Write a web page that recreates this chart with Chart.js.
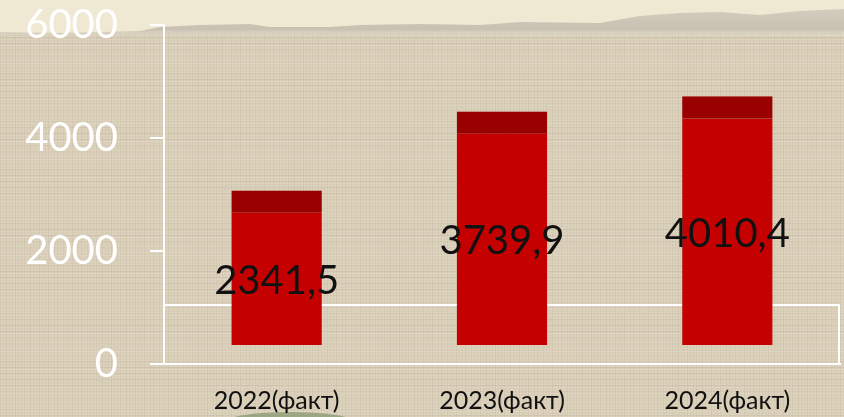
<!DOCTYPE html>
<html>
<head>
<meta charset="utf-8">
<script src="https://cdn.jsdelivr.net/npm/chart.js@4.4.1/dist/chart.umd.min.js"></script>
<style>
  html, body { margin: 0; padding: 0; background: #d8cdb7; }
  #wrap { width: 844px; height: 417px; position: relative; }
</style>
</head>
<body>
<div id="wrap"><canvas id="c" width="844" height="417"></canvas></div>
<script>
// ---- data ----
const categories = ['2022(факт)', '2023(факт)', '2024(факт)'];
const values = [2341.5, 3739.9, 4010.4];
const yTicks = [0, 2000, 4000, 6000];

// ---- style constants ----
const RED = '#c40000';
const DARK_RED = '#990000';
const FONT = 'Lato, "Open Sans", sans-serif';
const BASE_LIFT = 336;     // 3D floor lift of bar bases, in axis units
const TOP_FACE_PX = 22;    // height of the darker top face
const FLOOR_DEPTH_PX = 59; // depth of the white floor outline

function makeTexture() {
  const p = document.createElement('canvas');
  p.width = 96; p.height = 96;
  const g = p.getContext('2d');
  g.fillStyle = '#dacfb9';
  g.fillRect(0, 0, 96, 96);
  for (let i = 0; i < 96; i += 3) {
    const a = 0.10 + 0.08 * Math.sin(i * 1.7) * Math.cos(i * 0.37);
    g.fillStyle = 'rgba(150,135,110,' + Math.abs(a).toFixed(3) + ')';
    g.fillRect(i, 0, 1, 96);
    const b = 0.14 + 0.08 * Math.cos(i * 2.3) * Math.sin(i * 0.53);
    g.fillStyle = 'rgba(245,238,222,' + Math.abs(b).toFixed(3) + ')';
    g.fillRect(0, i, 96, 1);
  }
  for (let i = 1; i < 96; i += 6) {
    const a = 0.06 + 0.05 * Math.sin(i * 0.9);
    g.fillStyle = 'rgba(120,105,85,' + Math.abs(a).toFixed(3) + ')';
    g.fillRect(0, i, 96, 1);
  }
  return p;
}

const bgPlugin = {
  id: 'bg',
  beforeDraw(chart) {
    const ctx = chart.ctx;
    const W = chart.width, H = chart.height;
    ctx.save();
    ctx.fillStyle = ctx.createPattern(makeTexture(), 'repeat');
    ctx.fillRect(0, 0, W, H);
    // cream paper at top
    ctx.fillStyle = '#efe8d2';
    ctx.fillRect(0, 0, W, 33);
    // torn edge shadow
    ctx.beginPath();
    const edge = [[0,32],[60,33],[140,31],[160,27],[200,25],[250,24],[270,27],[330,27],[360,25],[420,24],[480,25],[520,22],[600,23],[640,16],[680,13],[720,12],[760,15],[800,11],[844,9]];
    ctx.moveTo(edge[0][0], edge[0][1]);
    edge.forEach(p => ctx.lineTo(p[0], p[1]));
    ctx.lineTo(844, 36);
    ctx.lineTo(0, 35);
    ctx.closePath();
    const gr = ctx.createLinearGradient(0, 9, 0, 36);
    gr.addColorStop(0, 'rgba(205,198,185,0.8)');
    gr.addColorStop(0.75, 'rgba(190,183,170,0.8)');
    gr.addColorStop(1, 'rgba(228,220,203,0.7)');
    ctx.fillStyle = gr;
    ctx.fill();
    // greenish patch at bottom
    ctx.fillStyle = 'rgba(130,150,110,0.7)';
    ctx.beginPath();
    ctx.ellipse(290, 421, 62, 9, 0, 0, Math.PI * 2);
    ctx.fill();
    ctx.restore();
  },
  beforeDatasetsDraw(chart) {
    const ctx = chart.ctx;
    const a = chart.chartArea;
    ctx.save();
    ctx.strokeStyle = '#ffffff';
    ctx.lineWidth = 2;
    ctx.beginPath();
    ctx.moveTo(a.left, a.bottom - FLOOR_DEPTH_PX);
    ctx.lineTo(a.right - 1, a.bottom - FLOOR_DEPTH_PX);
    ctx.lineTo(a.right - 1, a.bottom);
    ctx.stroke();
    ctx.restore();
  },
  afterDatasetsDraw(chart) {
    const ctx = chart.ctx;
    const meta = chart.getDatasetMeta(0);
    ctx.save();
    meta.data.forEach((bar, i) => {
      const w = bar.width;
      ctx.fillStyle = DARK_RED;
      ctx.fillRect(bar.x - w / 2, bar.y - TOP_FACE_PX, w, TOP_FACE_PX);
      ctx.fillStyle = '#111111';
      ctx.font = '40px ' + FONT;
      ctx.textAlign = 'center';
      ctx.textBaseline = 'middle';
      const label = values[i].toFixed(1).replace('.', ',');
      ctx.fillText(label, bar.x, (bar.y + bar.base) / 2 + 2);
    });
    ctx.restore();
  }
};

new Chart(document.getElementById('c'), {
  type: 'bar',
  data: {
    labels: categories,
    datasets: [{
      data: values,
      backgroundColor: RED,
      borderWidth: 0,
      barPercentage: 0.4,
      categoryPercentage: 1.0,
      yAxisID: 'y2'
    }]
  },
  options: {
    responsive: false,
    animation: false,
    events: [],
    layout: { padding: { top: 25, right: 4, left: 0, bottom: 0 } },
    plugins: { legend: { display: false }, tooltip: { enabled: false } },
    scales: {
      x: {
        grid: { display: false },
        border: { display: true, color: '#ffffff', width: 2 },
        ticks: { color: '#111111', font: { family: FONT, size: 25 }, padding: 14 },
        afterFit(s) { s.height = 53; s.paddingLeft = 0; s.paddingRight = 0; }
      },
      y: {
        min: 0, max: 6000,
        afterBuildTicks(s) { s.ticks = yTicks.map(v => ({ value: v })); },
        grid: { drawOnChartArea: false, color: '#ffffff', tickLength: 14, lineWidth: 2, tickColor: '#ffffff' },
        border: { display: true, color: '#ffffff', width: 2 },
        ticks: {
          color: '#ffffff', font: { family: FONT, size: 40, lineHeight: 1 }, padding: 32,
          callback: v => String(v)
        },
        afterFit(s) { s.width = 164; s.paddingTop = 0; s.paddingBottom = 0; }
      },
      y2: {
        display: false,
        min: -BASE_LIFT, max: 6000 - BASE_LIFT
      }
    }
  },
  plugins: [bgPlugin]
});
</script>
</body>
</html>
